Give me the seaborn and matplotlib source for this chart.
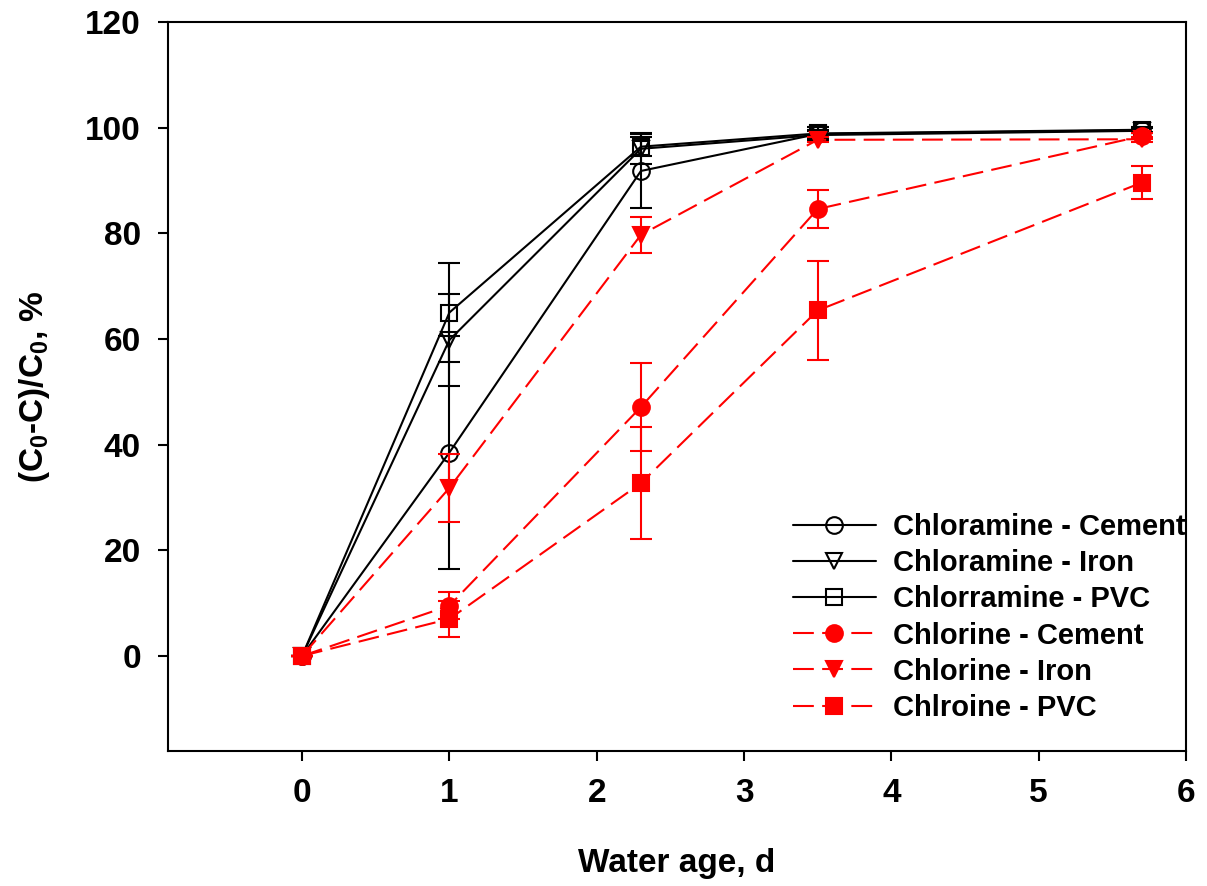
import matplotlib
matplotlib.use("Agg")
import matplotlib.pyplot as plt
import seaborn as sns
import pandas as pd

# Water age (days) at each sampling point
water_age = [0, 1, 2.3, 3.5, 5.7]

# Disinfectant decay (C0-C)/C0 in %, with standard deviations
chloramine_cement = [0, 38.5, 91.8, 98.8, 99.5]
chloramine_cement_sd = [0, 22.0, 7.0, 0.8, 0.5]
chloramine_iron = [0, 59.8, 96.0, 98.6, 99.4]
chloramine_iron_sd = [0, 8.7, 2.9, 0.8, 0.5]
chloramine_pvc = [0, 65.0, 96.4, 98.9, 99.6]
chloramine_pvc_sd = [0, 9.3, 1.8, 1.2, 0.5]

chlorine_cement = [0, 9.5, 47.1, 84.6, 98.4]
chlorine_cement_sd = [0, 2.6, 8.4, 3.6, 0.5]
chlorine_iron = [0, 31.8, 79.7, 97.7, 97.8]
chlorine_iron_sd = [0, 6.5, 3.4, 0.5, 0.5]
chlorine_pvc = [0, 7.0, 32.7, 65.4, 89.6]
chlorine_pvc_sd = [0, 3.4, 10.6, 9.3, 3.2]

series_labels = [
    "Chloramine - Cement",
    "Chloramine - Iron",
    "Chlorramine - PVC",
    "Chlorine - Cement",
    "Chlorine - Iron",
    "Chlroine - PVC",
]

sns.set_theme(style="ticks")
plt.rcParams["font.family"] = ["Liberation Sans", "DejaVu Sans"]
plt.rcParams["font.weight"] = "bold"
plt.rcParams["text.color"] = "black"
plt.rcParams["axes.labelcolor"] = "black"
plt.rcParams["mathtext.fontset"] = "custom"
plt.rcParams["mathtext.rm"] = "Liberation Sans:bold"
plt.rcParams["mathtext.default"] = "rm"

fig = plt.figure(figsize=(12.07, 8.86), dpi=100)
ax = fig.add_axes([168 / 1207, 1 - 751 / 886, (1186 - 168) / 1207, (751 - 22) / 886])

series = [
    (chloramine_cement, chloramine_cement_sd, "o", "black", False),
    (chloramine_iron, chloramine_iron_sd, "v", "black", False),
    (chloramine_pvc, chloramine_pvc_sd, "s", "black", False),
    (chlorine_cement, chlorine_cement_sd, "o", "red", True),
    (chlorine_iron, chlorine_iron_sd, "v", "red", True),
    (chlorine_pvc, chlorine_pvc_sd, "s", "red", True),
]

handles = []
for i, ((vals, sd, mk, col, filled), lab) in enumerate(zip(series, series_labels)):
    z = 2 + i
    ax.errorbar(water_age, vals, yerr=sd, fmt="none", ecolor=col,
                elinewidth=1.5, capsize=8, capthick=1.5, zorder=z)
    df = pd.DataFrame({"age": water_age, "value": vals})
    kws = dict(
        marker=mk,
        markersize=12 if mk != "s" else 11,
        markeredgecolor=col,
        markeredgewidth=1.5,
        linewidth=1.5,
        color=col,
        zorder=z + 0.5,
    )
    if filled:
        kws["markerfacecolor"] = col
        kws["linestyle"] = (0, (10, 4))
    else:
        kws["fillstyle"] = "none"
        kws["linestyle"] = "-"
    sns.lineplot(data=df, x="age", y="value", ax=ax, errorbar=None,
                 label=lab, legend=False, **kws)
    handles.append(ax.lines[-1])

ax.set_xlim(-0.91, 6)
ax.set_ylim(-18, 120)
ax.set_xticks(range(0, 7))
ax.set_yticks(range(0, 121, 20))

for side in ["top", "right", "left", "bottom"]:
    ax.spines[side].set_visible(True)
    ax.spines[side].set_color("black")
    ax.spines[side].set_linewidth(1.5)

ax.tick_params(axis="both", direction="out", length=7.5, width=1.5,
               labelsize=24, pad=12, colors="black", labelcolor="black")
for t in ax.get_xticklabels() + ax.get_yticklabels():
    t.set_fontweight("bold")

ax.set_xlabel("Water age, d", fontsize=24, fontweight="bold", labelpad=28,
              color="black")
ax.set_ylabel("(C$_0$-C)/C$_0$, %", fontsize=24, fontweight="bold",
              labelpad=24, color="black")

leg = ax.legend(handles=handles, labels=series_labels, loc="lower right",
                bbox_to_anchor=(1.0, 0.04), frameon=False, fontsize=21,
                handlelength=2.85, handletextpad=0.6, labelspacing=0.28,
                borderaxespad=0.0, borderpad=0.0)
for t in leg.get_texts():
    t.set_fontweight("bold")
    t.set_color("black")

fig.savefig("out.png", dpi=100)
